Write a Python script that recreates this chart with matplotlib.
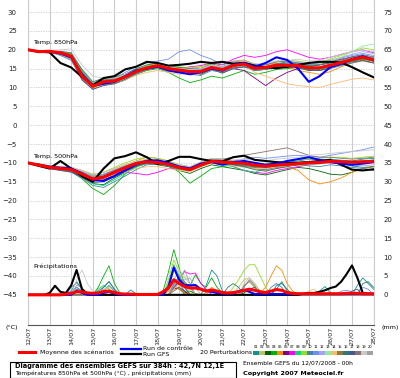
import matplotlib
matplotlib.use('Agg')
import matplotlib.pyplot as plt
from matplotlib.lines import Line2D
from matplotlib.patches import Rectangle

# ── time axes ────────────────────────────────────────────────────────────────
HOURS_T = list(range(0, 385, 12))   # temperatures, 12h step
HOURS_P = list(range(0, 385, 6))    # precipitation, 6h step
DATES = ['12/07', '13/07', '14/07', '15/07', '16/07', '17/07', '18/07', '19/07',
         '20/07', '21/07', '22/07', '23/07', '24/07', '25/07', '26/07', '27/07',
         '28/07']

PERT_COLORS = ['#139090', '#c0c060', '#006400', '#00b000', '#ff8c00', '#800080',
               '#ff00ff', '#00e070', '#90e020', '#4682b4', '#7090f0', '#a8a0ff',
               '#90ee90', '#ffb870', '#8b7d3a', '#2e7878', '#485a8c', '#8b7070',
               '#c8c8c8', '#a0a0a0']

# ── Temp. 850hPa ─────────────────────────────────────────────────────────────
mean_850 = [20, 19.5, 19.6, 19.2, 18.3, 13, 10.3, 11.5, 11.7, 12.8, 14.2, 15.2, 15.8, 15, 14.6, 14.2, 14.2,
            15.3, 14.7, 15.8, 16.2, 15.1, 15.3, 15.9, 15.9, 15.8, 15.2, 15.2, 15.9, 16.6, 17.4, 18, 17.3]
gfs_850 = [20, 19.5, 19.3, 16.5, 15.3, 12.8, 10.6, 12.5, 13, 14.8, 15.5, 16.8, 16.5, 15.8, 16, 16.3, 16.8,
           16.5, 16.8, 16.3, 16.5, 15.8, 15.4, 15.1, 15.5, 16, 16.5, 16.8, 16.8, 16.6, 15.4, 14, 12.7]
ctrl_850 = [20, 19.5, 19.5, 19, 18, 13.5, 10.5, 11, 11.5, 13, 14.5, 15, 15.5, 14.5, 14, 13.5, 14,
            15, 14.5, 16, 16.5, 15.5, 16.5, 18, 17.3, 15, 11.5, 13, 15.4, 16.3, 17.5, 18.3, 17.3]
p850_01 = [20, 19.6, 19.4, 19.5, 18.5, 13.5, 10.0, 11.0, 12.0, 13.2, 14.5, 15.3, 15.5, 14.8, 14.3, 14.5, 14.8, 15.5, 14.5, 16.0, 16.5, 15.5, 15.0, 16.3, 16.8, 16.2, 15.5, 16.0, 16.5, 17.2, 18.2, 18.7, 18.0]
p850_02 = [20, 19.3, 19.5, 18.8, 17.5, 12.5, 10.5, 12.0, 12.2, 13.0, 14.8, 15.5, 16.2, 15.5, 15.0, 14.8, 15.0, 16.0, 15.2, 16.3, 16.8, 15.8, 15.5, 16.5, 16.2, 15.5, 14.8, 14.5, 15.2, 16.0, 17.0, 17.5, 16.8]
p850_03 = [20, 19.5, 19.8, 19.3, 18.8, 14.0, 10.8, 12.0, 12.0, 12.5, 13.8, 15.0, 15.8, 15.3, 15.0, 14.2, 13.5, 14.8, 13.8, 15.0, 15.5, 14.5, 14.8, 15.5, 15.2, 15.5, 14.8, 15.0, 15.8, 16.5, 17.5, 18.2, 17.5]
p850_04 = [20, 19.6, 19.4, 19.5, 19.0, 14.5, 11.0, 11.2, 11.0, 12.0, 13.5, 14.5, 15.0, 14.0, 12.5, 11.3, 12.0, 13.0, 12.5, 13.5, 14.5, 13.5, 14.0, 14.8, 15.0, 15.3, 14.5, 14.8, 15.5, 16.3, 17.0, 17.5, 17.0]
p850_05 = [20, 19.4, 19.7, 19.0, 17.8, 12.0, 9.8, 11.0, 11.5, 13.0, 14.5, 15.8, 16.5, 15.5, 15.2, 15.0, 15.5, 16.5, 16.0, 17.0, 17.3, 16.2, 16.0, 16.5, 15.5, 14.5, 14.0, 13.5, 14.2, 15.5, 16.5, 17.0, 16.5]
p850_06 = [20, 19.5, 19.5, 19.2, 18.0, 13.2, 10.2, 11.5, 12.5, 13.5, 14.8, 15.5, 16.0, 15.2, 14.8, 14.0, 14.5, 15.2, 14.0, 15.0, 14.5, 12.5, 10.5, 12.5, 14.0, 15.0, 15.5, 16.0, 16.8, 17.5, 18.0, 18.5, 18.0]
p850_07 = [20, 19.7, 19.6, 19.4, 18.6, 13.8, 10.5, 11.8, 12.0, 13.0, 14.0, 15.0, 15.5, 15.0, 15.0, 15.5, 15.8, 16.5, 16.0, 17.5, 18.5, 18.0, 18.5, 19.5, 20.0, 19.0, 18.0, 17.5, 18.0, 18.8, 19.5, 20.0, 19.2]
p850_08 = [20, 19.4, 19.3, 18.9, 17.8, 12.8, 10.0, 11.0, 11.3, 12.5, 14.0, 15.0, 15.5, 14.5, 14.0, 13.8, 14.0, 15.0, 14.5, 15.5, 15.8, 14.8, 15.0, 15.5, 15.8, 16.0, 15.5, 15.2, 16.0, 16.8, 17.5, 18.2, 17.8]
p850_09 = [20, 19.6, 19.7, 19.5, 18.9, 14.2, 11.2, 12.2, 12.5, 13.3, 14.8, 15.8, 16.3, 15.8, 15.5, 15.2, 15.5, 16.3, 15.5, 16.5, 17.0, 16.0, 16.2, 17.0, 17.2, 17.0, 16.5, 16.8, 17.5, 18.5, 19.5, 20.5, 20.0]
p850_10 = [20, 19.5, 19.4, 18.5, 17.2, 12.2, 9.5, 10.8, 11.0, 12.0, 13.5, 14.8, 15.2, 14.5, 14.0, 13.5, 13.2, 14.5, 14.0, 15.0, 15.5, 14.5, 14.8, 15.2, 15.5, 15.8, 15.0, 14.5, 15.0, 15.8, 16.5, 17.2, 16.5]
p850_11 = [20, 19.5, 19.6, 19.3, 18.5, 13.5, 10.5, 11.8, 12.5, 14.0, 15.5, 16.5, 17.0, 17.5, 19.5, 20.0, 18.5, 17.5, 16.0, 16.8, 17.0, 16.2, 16.0, 16.8, 17.0, 16.5, 16.0, 16.5, 17.0, 17.8, 18.5, 19.0, 18.5]
p850_12 = [20, 19.3, 19.5, 19.0, 18.2, 12.8, 10.2, 11.2, 11.8, 12.8, 14.2, 15.0, 15.5, 14.8, 14.5, 14.5, 14.8, 15.8, 15.2, 16.2, 16.5, 15.5, 15.5, 16.0, 16.5, 16.8, 16.2, 16.5, 17.2, 18.0, 18.8, 19.5, 19.0]
p850_13 = [20, 19.6, 19.5, 19.4, 18.7, 13.8, 10.8, 11.5, 11.5, 12.3, 13.8, 14.8, 15.2, 14.3, 14.0, 13.5, 13.8, 15.0, 14.2, 15.2, 15.8, 14.8, 15.0, 15.8, 16.0, 16.2, 15.8, 16.3, 17.0, 18.0, 19.5, 21.0, 21.5]
p850_14 = [20, 19.4, 19.6, 19.1, 18.0, 12.5, 10.0, 10.5, 11.0, 12.0, 13.2, 14.0, 14.5, 14.0, 13.5, 13.8, 14.2, 15.0, 14.5, 15.5, 15.8, 14.0, 13.0, 12.0, 11.0, 10.5, 10.2, 10.0, 10.8, 11.5, 12.2, 12.5, 12.0]
p850_15 = [20, 19.5, 19.3, 19.2, 18.4, 13.2, 10.5, 11.8, 12.2, 13.0, 14.5, 15.5, 16.0, 15.2, 14.8, 14.5, 14.5, 15.5, 15.0, 16.0, 16.3, 15.2, 15.3, 16.0, 15.8, 15.5, 15.0, 15.2, 16.0, 16.8, 17.3, 17.8, 17.0]
p850_16 = [20, 19.7, 19.5, 19.6, 19.2, 14.8, 11.5, 12.5, 12.8, 13.5, 15.0, 16.0, 16.5, 15.8, 15.3, 15.0, 15.0, 16.2, 15.5, 16.5, 16.8, 15.8, 15.5, 16.2, 16.5, 16.2, 15.8, 16.0, 16.5, 17.0, 17.8, 18.3, 17.8]
p850_17 = [20, 19.4, 19.5, 19.0, 17.8, 12.0, 9.5, 10.5, 11.0, 12.2, 13.8, 14.8, 15.3, 14.5, 14.2, 14.0, 14.0, 15.0, 14.2, 15.2, 15.5, 14.8, 15.0, 15.5, 15.5, 15.2, 14.5, 14.5, 15.3, 16.0, 16.8, 17.2, 16.5]
p850_18 = [20, 19.5, 19.6, 19.5, 18.8, 14.0, 11.0, 12.0, 12.0, 12.8, 14.0, 15.0, 15.5, 14.8, 14.5, 14.0, 14.2, 15.2, 14.8, 16.0, 16.5, 15.8, 16.0, 16.8, 17.0, 16.5, 16.0, 16.0, 16.8, 17.5, 18.0, 18.5, 18.2]
p850_19 = [20, 19.6, 19.8, 20.0, 20.2, 16.0, 13.0, 12.5, 12.5, 13.5, 14.5, 15.5, 16.0, 15.5, 15.0, 14.8, 15.0, 16.0, 15.5, 16.5, 17.0, 16.2, 16.3, 17.0, 17.2, 17.5, 17.0, 17.2, 18.0, 18.8, 19.5, 20.0, 19.5]
p850_20 = [20, 19.4, 19.3, 18.8, 17.5, 12.5, 10.0, 11.2, 11.5, 12.5, 14.0, 15.0, 15.5, 14.8, 14.5, 14.2, 14.3, 15.3, 14.8, 15.8, 16.2, 15.2, 15.3, 15.8, 16.0, 15.8, 15.2, 15.5, 16.2, 17.0, 17.8, 18.5, 18.0]

# ── Temp. 500hPa ─────────────────────────────────────────────────────────────
mean_500 = [-10, -10.6, -11.2, -11.5, -11.8, -13, -14.3, -13.8, -12.5, -11.3, -10.2, -9.7, -9.9, -10.4, -11.3, -11.8, -10.6,
            -9.6, -9.8, -10, -10.1, -10.6, -10.9, -10.6, -10.4, -10.2, -10, -9.9, -9.6, -9.7, -9.8, -9.7, -9.6]
gfs_500 = [-10, -10.8, -11.5, -9.5, -11.5, -13.5, -15.0, -11.5, -8.8, -8.2, -7.2, -8.5, -10.3, -9.5, -8.4, -8.4, -9.0,
           -9.5, -9.6, -8.5, -8.1, -9.2, -9.5, -9.8, -10, -10, -9.8, -9.5, -9.2, -10.5, -11.8, -12, -11.7]
ctrl_500 = [-10, -10.5, -11, -11.3, -11.5, -12.8, -14.5, -14.8, -13.5, -12, -10.5, -9.5, -9.3, -10, -11, -11.5, -10.2,
            -9.8, -10.5, -9.8, -9.5, -10, -10.5, -10.2, -9.5, -9.0, -8.5, -9.2, -9.8, -10.2, -10.5, -10.2, -9.8]
p500_01 = [-10, -10.4, -11.0, -11.2, -11.5, -12.5, -13.5, -13.0, -12.0, -11.0, -10.0, -9.5, -9.8, -10.2, -11.0, -11.5, -10.3, -9.3, -9.5, -9.8, -9.5, -10.0, -10.5, -10.0, -9.8, -9.5, -9.0, -9.2, -9.0, -9.3, -9.5, -9.0, -8.8]
p500_02 = [-10, -10.8, -11.5, -11.8, -12.0, -13.5, -15.0, -14.5, -13.0, -11.8, -10.5, -10.0, -10.2, -10.8, -11.5, -12.0, -10.8, -9.8, -10.2, -10.5, -10.8, -11.2, -11.5, -11.0, -10.8, -10.5, -10.5, -10.2, -9.8, -10.0, -10.3, -10.0, -9.8]
p500_03 = [-10, -10.5, -11.2, -11.6, -12.2, -13.8, -15.5, -15.8, -14.0, -12.5, -11.0, -10.2, -10.5, -11.0, -12.0, -12.8, -11.5, -10.5, -11.0, -11.5, -12.0, -12.8, -13.2, -12.5, -11.8, -11.2, -11.5, -12.2, -13.0, -13.2, -12.5, -11.5, -11.0]
p500_04 = [-10, -10.6, -11.3, -11.8, -12.3, -14.2, -16.8, -18.4, -16.0, -13.0, -10.5, -9.5, -9.5, -10.5, -12.5, -15.4, -13.5, -11.5, -11.0, -10.5, -10.8, -11.2, -11.0, -10.5, -10.2, -10.0, -9.8, -9.5, -9.3, -9.5, -9.8, -9.5, -9.3]
p500_05 = [-10, -10.2, -10.8, -11.0, -11.2, -12.0, -13.0, -12.5, -11.5, -10.5, -9.5, -8.5, -8.8, -9.5, -10.5, -11.0, -10.0, -9.0, -9.2, -9.8, -10.5, -11.5, -12.0, -11.5, -11.0, -12.0, -14.5, -15.6, -15.0, -14.0, -12.5, -11.5, -11.0]
p500_06 = [-10, -10.7, -11.4, -11.7, -12.0, -13.2, -14.8, -14.5, -13.2, -11.8, -10.5, -10.0, -10.0, -10.5, -11.2, -11.8, -10.5, -9.5, -9.8, -10.2, -10.5, -11.0, -11.2, -10.8, -10.5, -10.2, -10.0, -10.0, -9.8, -10.0, -10.2, -9.8, -9.5]
p500_07 = [-10, -10.5, -11.0, -11.5, -12.0, -13.0, -14.0, -13.5, -12.8, -12.5, -12.8, -13.2, -12.5, -11.5, -11.5, -11.5, -10.5, -9.5, -9.8, -11.0, -12.0, -12.5, -12.8, -12.0, -11.5, -11.0, -10.5, -10.2, -10.0, -10.0, -10.2, -10.0, -9.8]
p500_08 = [-10, -10.5, -11.2, -11.5, -12.0, -13.5, -15.5, -16.0, -14.5, -12.8, -11.2, -10.0, -10.0, -10.8, -11.8, -12.2, -11.0, -10.0, -10.5, -11.0, -12.0, -12.5, -11.5, -10.8, -10.5, -10.2, -10.0, -9.8, -9.5, -9.5, -9.8, -9.5, -9.2]
p500_09 = [-10, -10.3, -10.8, -11.0, -11.3, -12.2, -13.2, -12.5, -11.2, -10.0, -9.0, -8.5, -8.8, -9.5, -10.5, -11.0, -9.8, -8.8, -9.0, -9.5, -9.8, -10.2, -10.2, -9.8, -9.5, -9.2, -9.0, -8.8, -8.5, -8.5, -8.8, -8.5, -8.2]
p500_10 = [-10, -10.7, -11.5, -12.0, -12.5, -14.0, -16.0, -16.5, -15.0, -13.5, -11.8, -10.5, -10.2, -10.8, -11.5, -12.0, -10.8, -9.8, -10.0, -10.5, -11.0, -11.5, -11.8, -11.2, -10.8, -10.5, -10.8, -11.0, -10.5, -10.8, -11.2, -11.5, -12.0]
p500_11 = [-10, -10.5, -11.0, -11.3, -11.8, -13.0, -14.2, -13.8, -12.5, -11.2, -10.2, -9.8, -10.0, -10.5, -11.0, -11.2, -10.0, -9.0, -9.2, -9.5, -9.0, -8.5, -8.8, -8.5, -8.2, -8.0, -8.2, -8.5, -8.0, -7.5, -7.0, -6.5, -5.8]
p500_12 = [-10, -10.4, -10.9, -11.1, -11.4, -12.3, -13.5, -13.0, -11.8, -10.8, -9.8, -9.2, -9.5, -10.0, -10.8, -11.2, -10.2, -9.2, -9.5, -10.0, -10.2, -10.5, -10.8, -10.5, -10.2, -10.0, -9.8, -9.5, -9.8, -10.2, -10.5, -10.8, -10.5]
p500_13 = [-10, -10.6, -11.3, -11.7, -12.1, -13.3, -14.6, -14.2, -12.8, -11.5, -10.4, -9.8, -10.0, -10.5, -11.2, -11.8, -10.5, -9.6, -10.0, -10.3, -10.5, -11.0, -11.3, -11.0, -10.8, -10.6, -10.4, -10.3, -10.0, -10.0, -10.2, -10.0, -9.6]
p500_14 = [-10, -10.5, -11.1, -11.4, -11.8, -13.0, -14.3, -14.0, -13.2, -12.5, -11.5, -11.0, -11.0, -11.5, -12.0, -12.3, -11.0, -10.0, -10.3, -10.8, -11.2, -11.5, -11.5, -11.0, -10.8, -10.5, -10.2, -10.0, -9.8, -9.8, -10.0, -9.8, -9.5]
p500_15 = [-10, -10.6, -11.2, -11.6, -12.0, -13.2, -14.5, -14.0, -12.8, -11.5, -10.3, -9.6, -9.8, -10.3, -11.0, -11.5, -10.4, -9.4, -9.6, -9.9, -10.2, -10.6, -10.8, -10.4, -10.0, -9.8, -9.6, -9.5, -9.3, -9.5, -9.8, -9.6, -9.4]
p500_16 = [-10, -10.5, -11.0, -11.4, -11.8, -12.8, -14.0, -13.5, -12.2, -11.0, -9.8, -9.2, -9.5, -10.2, -11.2, -11.8, -10.6, -9.6, -10.0, -10.5, -11.0, -11.8, -12.2, -11.5, -11.0, -10.5, -10.2, -10.0, -9.8, -10.2, -10.8, -11.2, -11.0]
p500_17 = [-10, -10.8, -11.6, -12.0, -12.4, -13.8, -15.2, -15.0, -13.6, -12.2, -10.8, -10.0, -10.0, -10.6, -11.4, -12.0, -10.8, -9.8, -10.0, -10.4, -10.6, -11.0, -11.2, -10.8, -10.4, -10.2, -10.0, -9.8, -9.6, -9.8, -10.0, -9.8, -9.6]
p500_18 = [-10, -10.3, -10.8, -11.0, -11.4, -12.5, -13.8, -13.2, -12.0, -10.8, -9.8, -9.2, -9.4, -10.0, -10.8, -11.2, -10.0, -9.0, -9.0, -8.5, -8.0, -7.5, -7.0, -6.5, -6.0, -7.0, -8.0, -8.5, -8.5, -8.8, -9.0, -8.8, -8.5]
p500_19 = [-10, -10.4, -10.8, -11.0, -11.2, -12.0, -13.0, -12.5, -11.5, -10.5, -9.6, -9.0, -9.2, -9.8, -10.5, -11.0, -9.8, -8.8, -9.0, -9.2, -9.0, -9.2, -9.5, -9.0, -8.8, -8.5, -8.0, -7.8, -7.5, -7.2, -7.0, -6.8, -6.5]
p500_20 = [-10, -10.6, -11.2, -11.5, -11.9, -13.1, -14.4, -14.0, -12.6, -11.4, -10.3, -9.8, -10.0, -10.5, -11.2, -11.6, -10.5, -9.5, -9.8, -10.1, -10.4, -10.8, -11.0, -10.6, -10.3, -10.1, -9.9, -9.8, -9.6, -9.7, -9.9, -9.7, -9.5]

# ── Précipitations (mm / 6h), rows of 13 values ─────────────────────────────
Z13 = [0] * 13
mean_p = ([0, 0, 0, 0, 0, 0, 0, 0.2, 0.4, 0.8, 0.8, 0.5, 0.4]
          + [0.5, 0.9, 1.0, 0.6, 0.3, 0.2, 0.2, 0.1, 0.1, 0.1, 0.1, 0.1, 0.8]
          + [1.8, 4.0, 3.0, 2.2, 1.8, 1.8, 1.5, 1.0, 1.3, 1.0, 0.6, 0.5, 0.6]
          + [0.8, 1.2, 1.5, 1.2, 0.8, 0.6, 1.0, 1.4, 1.2, 0.6, 0.4, 0.3, 0.3]
          + [0.3, 0.3, 0.3, 0.3, 0.3, 0.3, 0.3, 0.4, 0.4, 0.4, 0.3, 0.3, 0.3])
ctrl_p = ([0, 0, 0, 0, 0, 0, 0, 0, 0, 1.0, 0.5, 0, 0]
          + [0, 0.5, 0.8, 0.3, 0, 0, 0, 0, 0, 0, 0, 0, 0]
          + [2.0, 7.2, 4.0, 2.6, 2.5, 2.6, 1.5, 1.0, 0.8, 0.5, 0.3, 0.3, 0.3]
          + [1.0, 1.3, 0.8, 0.2, 0.2, 0.2, 0.2, 0.2, 0.2, 0.2, 0.2, 0.2, 0.2]
          + [0.2] * 13)
gfs_p = ([0, 0, 0, 0, 0.5, 2.4, 0.8, 0.5, 2.5, 6.6, 1.5, 0.3, 0]
         + Z13 + Z13
         + [0, 0, 0, 0, 0, 0, 0, 0, 0, 0, 0, 0, 0.3]
         + [0.5, 0.5, 0.8, 1.2, 1.8, 2.2, 3.5, 5.5, 7.8, 4.5, 0.5, 0.3, 0.2])
pp_01 = ([0, 0, 0, 0, 0, 0, 0, 0, 1.0, 3.5, 1.5, 0.5, 0]
         + [0, 1.0, 2.5, 1.0, 0, 0, 1.3, 0.3, 0, 0, 0, 0, 0]
         + [0, 2.0, 3.0, 1.0, 0, 0, 0, 2.5, 6.6, 5.0, 1.0, 0, 0]
         + [0, 0, 0, 0, 0, 0, 0, 1.5, 3.5, 1.0, 0, 0, 0]
         + [0, 0, 1.0, 2.2, 0.5, 0, 0, 0, 0, 2.5, 4.5, 3.0, 1.5])
pp_02 = (Z13 + Z13
         + [1.0, 3.5, 2.0, 0.5, 0, 0, 0, 0, 0, 0, 0, 0, 0.5]
         + [2.0, 4.0, 4.5, 3.0, 1.0, 0, 0, 0, 0, 0, 0, 0, 0]
         + Z13)
pp_03 = (Z13 + Z13
         + [0, 2.0, 1.5, 0.5, 1.0, 0.3, 0, 0, 0, 0, 0, 0, 0]
         + [0, 0.5, 1.5, 2.0, 1.0, 0, 0, 0, 0, 0, 0, 0, 0]
         + Z13)
pp_04 = ([0, 0, 0, 0, 0, 0, 0, 0, 0.5, 2.0, 1.0, 0, 0]
         + [2.0, 5.0, 7.7, 3.0, 0.5, 0, 0, 0, 0, 0, 0, 0, 1.0]
         + [6.0, 12.0, 7.0, 3.0, 2.5, 5.3, 3.0, 2.0, 4.5, 2.0, 0.5, 0, 0]
         + Z13 + Z13)
pp_05 = (Z13 + Z13
         + [1.0, 2.0, 1.5, 0.5, 0, 0, 0, 0.5, 2.0, 1.0, 0, 0, 0]
         + [0, 0, 0, 0, 0.5, 2.0, 5.0, 7.7, 6.5, 3.0, 1.0, 0, 0]
         + Z13)
pp_06 = (Z13 + Z13
         + [0, 1.5, 2.0, 1.0, 0, 0, 0, 0, 0, 0, 0, 0, 0]
         + Z13 + Z13)
pp_07 = (Z13 + Z13
         + [0, 2.0, 4.0, 6.2, 5.5, 5.8, 3.0, 1.5, 0, 0, 0, 0, 0]
         + Z13 + Z13)
pp_08 = (Z13
         + [1.5, 2.5, 1.5, 0, 0, 0, 0, 0, 0, 0, 0, 0, 0]
         + [0, 3.0, 5.0, 2.0, 0, 0, 0, 0, 0, 0, 0, 0, 0]
         + Z13 + Z13)
pp_09 = (Z13 + Z13
         + [4.0, 9.3, 6.0, 3.0, 0.5, 0, 0, 0, 0, 0, 0, 0, 2.0]
         + [4.0, 6.5, 8.0, 8.0, 5.0, 2.0, 0, 0, 0, 0, 0, 0, 0]
         + Z13)
pp_10 = ([0, 0, 0, 0, 0, 0, 0, 0, 2.0, 3.2, 1.5, 0, 0]
         + [0, 2.0, 3.5, 1.5, 0, 0, 0, 0, 0, 0, 0, 0, 0]
         + [3.0, 8.0, 5.0, 2.0, 0, 0, 0, 0, 0, 0, 0, 0, 0]
         + [0, 0, 0, 0, 0, 0, 2.0, 3.0, 2.0, 0, 0, 0, 0]
         + Z13)
pp_11 = ([0, 0, 0, 0, 0, 0, 0, 0, 1.0, 2.0, 1.0, 0, 0]
         + Z13
         + [0, 2.5, 4.0, 2.0, 0, 0, 0, 0, 0, 0, 0, 0, 0]
         + Z13
         + [0, 0, 0, 0, 0, 0, 1.0, 1.2, 0.8, 0, 2.0, 1.5, 0])
pp_12 = (Z13 + Z13
         + [0, 2.0, 3.0, 4.0, 4.5, 2.0, 0, 0, 0, 0, 0, 0, 0]
         + Z13 + Z13)
pp_13 = (Z13 + Z13
         + [0, 4.0, 6.0, 4.5, 3.0, 2.0, 0, 0, 0, 0, 0, 0, 0]
         + Z13 + Z13)
pp_14 = (Z13
         + [0, 1.5, 2.0, 0, 0, 0, 0, 0, 0, 0, 0, 0, 0]
         + [0, 1.5, 3.0, 2.0, 0, 0, 0, 0, 1.5, 1.0, 0, 0, 0]
         + Z13
         + [1.0, 1.5, 0, 0, 0, 0, 0, 0, 0, 0, 0, 0, 0])
pp_15 = (Z13 + Z13
         + [0, 1.0, 2.0, 0, 0, 0, 0, 0, 0, 0, 0, 0, 0]
         + [0, 2.5, 3.5, 2.0, 0, 0, 0, 0, 0, 0, 0, 0, 0]
         + Z13)
pp_16 = (Z13
         + [1.0, 2.0, 3.5, 1.5, 0, 0, 0, 0, 0, 0, 0, 0, 0]
         + [0, 0, 0, 0, 0, 0, 0, 0, 0, 0, 0, 2.0, 3.0]
         + [2.0, 0, 0, 0, 0, 0, 0, 2.5, 3.0, 1.5, 0, 0, 0]
         + [0, 0, 0, 0, 0, 0, 0, 0, 0, 0, 3.0, 3.5, 2.0])
pp_17 = ([0, 0, 0, 0, 0, 0, 0, 0, 0, 1.5, 1.0, 0, 0]
         + Z13
         + [0, 2.0, 3.5, 2.0, 0, 0, 0, 0, 0, 0, 0, 0, 0]
         + Z13
         + [0, 0, 0, 0, 0, 0, 0, 0, 1.0, 1.5, 0, 0, 0])
pp_18 = (Z13 + Z13
         + [0, 3.0, 4.5, 3.5, 2.0, 0, 0, 0, 0, 0, 0, 0, 0]
         + [0, 2.0, 4.0, 2.5, 0, 0, 0, 0, 0, 0, 0, 0, 0]
         + Z13)
pp_19 = ([0, 0, 0, 0, 0, 0, 0, 0, 0, 4.0, 6.6, 3.0, 1.0]
         + Z13
         + [0, 4.0, 6.6, 5.0, 3.0, 0, 0, 0, 0, 0, 0, 0, 0]
         + [0, 3.0, 4.5, 3.0, 0, 0, 0, 0, 0, 0, 0, 0, 0]
         + Z13)
pp_20 = ([0, 0, 0, 0, 0, 0, 0, 0, 0, 2.5, 2.0, 0, 0]
         + Z13
         + [0, 2.5, 4.0, 6.6, 3.0, 0, 0, 0, 0, 0, 0, 0, 0]
         + Z13 + Z13)

PERT_850 = [p850_01, p850_02, p850_03, p850_04, p850_05, p850_06, p850_07, p850_08, p850_09, p850_10,
            p850_11, p850_12, p850_13, p850_14, p850_15, p850_16, p850_17, p850_18, p850_19, p850_20]
PERT_500 = [p500_01, p500_02, p500_03, p500_04, p500_05, p500_06, p500_07, p500_08, p500_09, p500_10,
            p500_11, p500_12, p500_13, p500_14, p500_15, p500_16, p500_17, p500_18, p500_19, p500_20]
PERT_P = [pp_01, pp_02, pp_03, pp_04, pp_05, pp_06, pp_07, pp_08, pp_09, pp_10,
          pp_11, pp_12, pp_13, pp_14, pp_15, pp_16, pp_17, pp_18, pp_19, pp_20]

# ── figure ───────────────────────────────────────────────────────────────────
W, H = 400, 378
def fx(px):
    return px / W
def fy(py):
    return 1 - py / H

fig = plt.figure(figsize=(4, 3.78), dpi=100)
ax = fig.add_axes([fx(28), fy(325), 345.6 / W, 325 / H])
ax.set_xlim(0, 384)
ax.set_ylim(-53, 33.2)
ax2 = ax.twinx()
ax2.set_ylim(-8, 78.2)

GRID = '#cccccc'
ax.set_xticks(range(0, 385, 24))
ax.set_xticklabels(DATES, rotation=90, fontsize=4.6, color='#222222')
ax.set_yticks(range(-45, 31, 5))
ax.tick_params(axis='x', length=0, pad=1)
ax.tick_params(axis='y', length=0, pad=8, labelsize=5, labelcolor='#222222')
ax2.set_yticks(range(0, 76, 5))
ax2.tick_params(axis='y', length=0, pad=7, labelsize=5, labelcolor='#222222')
ax.grid(axis='x', color=GRID, lw=0.8, ls='-')
ax.grid(axis='y', color=GRID, lw=0.6, ls=(0, (1.5, 1.5)))
for side in ('top', 'left', 'right', 'bottom'):
    ax2.spines[side].set_visible(False)
ax.spines['top'].set_visible(False)
ax.spines['left'].set_color(GRID)
ax.spines['right'].set_color(GRID)
ax.spines['bottom'].set_color('#555555')

# perturbations
for col, t850, t500, pr in zip(PERT_COLORS, PERT_850, PERT_500, PERT_P):
    ax.plot(HOURS_T, t850, color=col, lw=0.6, zorder=2)
    ax.plot(HOURS_T, t500, color=col, lw=0.6, zorder=2)
    ax2.plot(HOURS_P, pr, color=col, lw=0.6, zorder=2)

# GFS, contrôle, moyenne
ax.plot(HOURS_T, gfs_850, color='black', lw=1.5, zorder=3)
ax.plot(HOURS_T, gfs_500, color='black', lw=1.5, zorder=3)
ax2.plot(HOURS_P, gfs_p, color='black', lw=1.5, zorder=3)
ax.plot(HOURS_T, ctrl_850, color='#0000ff', lw=1.5, zorder=4)
ax.plot(HOURS_T, ctrl_500, color='#0000ff', lw=1.5, zorder=4)
ax2.plot(HOURS_P, ctrl_p, color='#0000ff', lw=1.5, zorder=4)
ax.plot(HOURS_T, mean_850, color='#ff0000', lw=2.2, zorder=5)
ax.plot(HOURS_T, mean_500, color='#ff0000', lw=2.2, zorder=5)
ax2.plot(HOURS_P, mean_p, color='#ff0000', lw=2.2, zorder=5)

ax.text(6, 21.8, 'Temp. 850hPa', fontsize=4.6, va='center', zorder=6)
ax.text(6, -8.2, 'Temp. 500hPa', fontsize=4.6, va='center', zorder=6)
ax.text(6, -37.4, 'Précipitations', fontsize=4.6, va='center', zorder=6)

fig.text(fx(5), fy(327), '(°C)', fontsize=4.6, va='center')
fig.text(fx(381), fy(327), '(mm)', fontsize=4.6, va='center')

# ── légende ─────────────────────────────────────────────────────────────────
fig.add_artist(Line2D([fx(19), fx(35)], [fy(352), fy(352)], color='#ff0000', lw=2.2))
fig.text(fx(40), fy(352), 'Moyenne des scénarios', fontsize=4.5, va='center')
fig.add_artist(Line2D([fx(121), fx(141)], [fy(349), fy(349)], color='#0000ff', lw=1.6))
fig.add_artist(Line2D([fx(121), fx(141)], [fy(354), fy(354)], color='black', lw=1.6))
fig.text(fx(143), fy(348.5), 'Run de contrôle', fontsize=4.5, va='center')
fig.text(fx(143), fy(354.5), 'Run GFS', fontsize=4.5, va='center')
fig.text(fx(200), fy(352), '20 Perturbations', fontsize=4.5, va='center')
for k, col in enumerate(PERT_COLORS):
    x0 = 253 + k * 6
    fig.add_artist(Rectangle((fx(x0), fy(354.5)), 5.6 / W, 4 / H, transform=fig.transFigure,
                             facecolor=col, edgecolor='none'))
    fig.text(fx(x0 + 3), fy(347), '%02d' % (k + 1), fontsize=2.6, ha='center', va='center')

fig.add_artist(Rectangle((fx(10), fy(377.5)), 226 / W, 15.5 / H, transform=fig.transFigure,
                         fill=False, edgecolor='black', lw=0.8))
fig.text(fx(15), fy(366), 'Diagramme des ensembles GEFS sur 384h : 42,7N 12,1E',
         fontsize=4.8, weight='bold', va='center')
fig.text(fx(15), fy(373.5), 'Températures 850hPa et 500hPa (°C) , précipitations (mm)',
         fontsize=4.3, va='center')
fig.text(fx(243), fy(363), 'Ensemble GEFS du 12/07/2008 - 00h', fontsize=4.3, va='center')
fig.text(fx(243), fy(373), 'Copyright 2007 Meteociel.fr', fontsize=4.6, weight='bold', va='center')

fig.savefig('out.png', dpi=100)
